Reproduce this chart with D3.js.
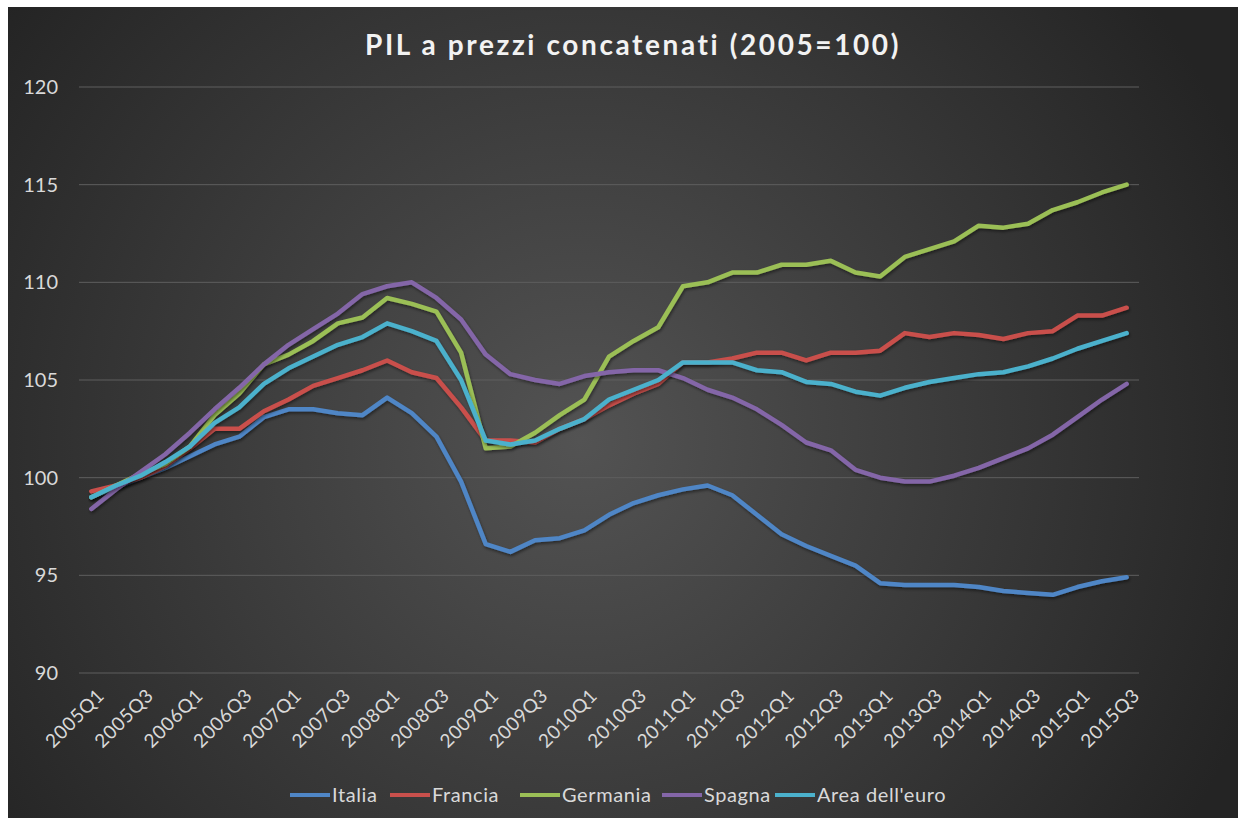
<!DOCTYPE html>
<html>
<head>
<meta charset="utf-8">
<script src="https://cdn.jsdelivr.net/npm/d3@7"></script>
<style>
  body { margin: 0; background: #fff; }
  text { font-family: Lato, "Open Sans", sans-serif; }
</style>
</head>
<body>
<svg id="chart" width="1238" height="818"></svg>
<script>
// trimestri 2005Q1 - 2015Q3
var quarters = [];
for (var yr = 2005; yr <= 2015; yr++) {
  for (var q = 1; q <= 4; q++) {
    if (yr === 2015 && q > 3) break;
    quarters.push(yr + 'Q' + q);
  }
}

var italia = [99.0, 99.5, 100.0, 100.5, 101.1, 101.7, 102.1, 103.1, 103.5, 103.5, 103.3, 103.2, 104.1, 103.3, 102.1, 99.8,
  96.6, 96.2, 96.8, 96.9, 97.3, 98.1, 98.7, 99.1, 99.4, 99.6, 99.1, 98.1, 97.1, 96.5, 96.0, 95.5,
  94.6, 94.5, 94.5, 94.5, 94.4, 94.2, 94.1, 94.0, 94.4, 94.7, 94.9];
var francia = [99.3, 99.6, 100.0, 100.6, 101.5, 102.5, 102.5, 103.4, 104.0, 104.7, 105.1, 105.5, 106.0, 105.4, 105.1, 103.6,
  101.9, 101.9, 101.8, 102.5, 103.0, 103.7, 104.3, 104.8, 105.9, 105.9, 106.1, 106.4, 106.4, 106.0, 106.4, 106.4,
  106.5, 107.4, 107.2, 107.4, 107.3, 107.1, 107.4, 107.5, 108.3, 108.3, 108.7];
var germania = [99.0, 99.6, 100.2, 100.7, 101.6, 103.2, 104.3, 105.8, 106.3, 107.0, 107.9, 108.2, 109.2, 108.9, 108.5, 106.4,
  101.5, 101.6, 102.3, 103.2, 104.0, 106.2, 107.0, 107.7, 109.8, 110.0, 110.5, 110.5, 110.9, 110.9, 111.1, 110.5,
  110.3, 111.3, 111.7, 112.1, 112.9, 112.8, 113.0, 113.7, 114.1, 114.6, 115.0];
var spagna = [98.4, 99.4, 100.3, 101.2, 102.3, 103.5, 104.6, 105.8, 106.8, 107.6, 108.4, 109.4, 109.8, 110.0, 109.2, 108.1,
  106.3, 105.3, 105.0, 104.8, 105.2, 105.4, 105.5, 105.5, 105.1, 104.5, 104.1, 103.5, 102.7, 101.8, 101.4, 100.4,
  100.0, 99.8, 99.8, 100.1, 100.5, 101.0, 101.5, 102.2, 103.1, 104.0, 104.8];
var euro = [99.0, 99.6, 100.1, 100.8, 101.6, 102.8, 103.6, 104.8, 105.6, 106.2, 106.8, 107.2, 107.9, 107.5, 107.0, 105.0,
  101.9, 101.7, 101.9, 102.5, 103.0, 104.0, 104.5, 105.0, 105.9, 105.9, 105.9, 105.5, 105.4, 104.9, 104.8, 104.4,
  104.2, 104.6, 104.9, 105.1, 105.3, 105.4, 105.7, 106.1, 106.6, 107.0, 107.4];

var seriesNames = ['Italia', 'Francia', 'Germania', 'Spagna', "Area dell'euro"];
var seriesValues = [italia, francia, germania, spagna, euro];
var colors = ['#4f86c6', '#c9504c', '#9bbf56', '#8466a8', '#4bb1cc'];
var yTicks = [90, 95, 100, 105, 110, 115, 120];

var svg = d3.select('#chart');
var W = 1238, H = 818;

// sfondo con gradiente radiale
var defs = svg.append('defs');
var grad = defs.append('radialGradient')
  .attr('id', 'bg')
  .attr('gradientUnits', 'userSpaceOnUse')
  .attr('cx', 580).attr('cy', 440).attr('r', 720);
grad.append('stop').attr('offset', '0%').attr('stop-color', '#535353');
grad.append('stop').attr('offset', '100%').attr('stop-color', '#242424');

var shadow = defs.append('filter').attr('id', 'shadow')
  .attr('x', '-5%').attr('y', '-5%').attr('width', '110%').attr('height', '110%');
shadow.append('feDropShadow')
  .attr('dx', 1).attr('dy', 2).attr('stdDeviation', 1.5)
  .attr('flood-color', '#000').attr('flood-opacity', 0.45);

svg.append('rect')
  .attr('x', 8).attr('y', 7)
  .attr('width', W - 8).attr('height', H - 7)
  .attr('fill', 'url(#bg)');

// area del grafico
var plotLeft = 79, plotRight = 1139, plotTop = 87, plotBottom = 673;

var x = d3.scalePoint()
  .domain(quarters)
  .range([plotLeft, plotRight])
  .padding(0.5);

var yScale = d3.scaleLinear()
  .domain([90, 120])
  .range([plotBottom, plotTop]);

// griglia
svg.append('g')
  .selectAll('line')
  .data(yTicks)
  .enter()
  .append('line')
  .attr('x1', plotLeft).attr('x2', plotRight)
  .attr('y1', function(d) { return yScale(d); })
  .attr('y2', function(d) { return yScale(d); })
  .attr('stroke', '#5e5e5e')
  .attr('stroke-width', 1);

// asse y
var yAxis = svg.append('g')
  .attr('transform', 'translate(' + (plotLeft - 21) + ',0)')
  .call(d3.axisLeft(yScale).tickValues(yTicks).tickSize(0).tickPadding(0));
yAxis.select('.domain').remove();
yAxis.selectAll('text')
  .attr('fill', '#d9d9d9')
  .style('font-size', '20px');

// asse x, etichette ogni due trimestri
var xAxis = svg.append('g')
  .attr('transform', 'translate(0,' + plotBottom + ')')
  .call(d3.axisBottom(x)
    .tickValues(quarters.filter(function(d, i) { return i % 2 === 0; }))
    .tickSize(0).tickPadding(0));
xAxis.select('.domain').remove();
xAxis.selectAll('text')
  .attr('fill', '#d9d9d9')
  .style('font-size', '19px')
  .style('letter-spacing', '0.6px')
  .attr('text-anchor', 'end')
  .attr('dy', '0.35em')
  .attr('transform', 'translate(9,19) rotate(-45)');

// linee
var line = d3.line()
  .x(function(d, i) { return x(quarters[i]); })
  .y(function(d) { return yScale(d); });

svg.append('g')
  .selectAll('path')
  .data(seriesValues)
  .enter()
  .append('path')
  .attr('d', line)
  .attr('fill', 'none')
  .attr('stroke', function(d, i) { return colors[i]; })
  .attr('stroke-width', 4.5)
  .attr('stroke-linejoin', 'round')
  .attr('stroke-linecap', 'round')
  .attr('filter', 'url(#shadow)');

// titolo
svg.append('text')
  .attr('x', 633).attr('y', 55)
  .attr('text-anchor', 'middle')
  .attr('fill', '#f2f2f2')
  .style('font-size', '28px')
  .style('font-weight', 'bold')
  .style('letter-spacing', '2.6px')
  .text('PIL a prezzi concatenati (2005=100)');

// legenda
var legendX = [290, 390, 520, 662, 775];
var legend = svg.append('g')
  .selectAll('g')
  .data(seriesNames)
  .enter()
  .append('g')
  .attr('transform', function(d, i) { return 'translate(' + legendX[i] + ',795)'; });
legend.append('line')
  .attr('x1', 0).attr('x2', 40)
  .attr('stroke', function(d, i) { return colors[i]; })
  .attr('stroke-width', 4);
legend.append('text')
  .attr('x', 42).attr('dy', '0.35em')
  .attr('fill', '#d9d9d9')
  .style('font-size', '20px')
  .style('letter-spacing', '0.6px')
  .text(function(d) { return d; });
</script>
</body>
</html>
